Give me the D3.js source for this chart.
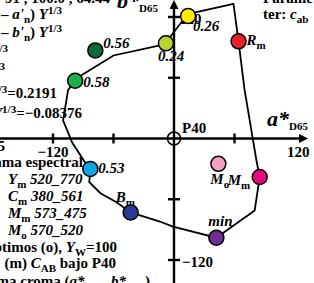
<!DOCTYPE html>
<html>
<meta charset="utf-8">
<head>
<title>Gama croma</title>
<style>
body { margin: 0; background: #fff; }
text { font-family: "Liberation Serif", "Times New Roman", serif; font-weight: bold; font-size: 15px; }
.curve { fill: none; stroke: #000; stroke-width: 1.8px; }
.axis { stroke: #000; stroke-width: 2.4px; }
</style>
</head>
<body>
<script src="https://d3js.org/d3.v7.min.js"></script>
<script>

// chroma loop (a*, b*) under P40
var curveA = [14, 19, 59, 64, 70, 82, 85, 80, 42, -1, -14, -43, -57, -73, -84, -83, -88, -101, -110, -105, -98, -91, -60, -14, -8, -4, 9];
var curveB = [121, 124, 133, 96, 48, -23, -38, -71, -98, -87, -82, -73, -63, -54, -43, -30, -24, -4, 18, 48, 57, 63, 82, 92, 94, 100, 117];

// marked colours
var ptNames = ["0.56", "0.58", "0.24", "0.26", "Rm", "0.53", "Mo", "Mm", "Bm", "min"];
var ptA = [-78, -98, -8, 14, 64, -83, 44, 85, -43, 42];
var ptB = [87, 57, 94, 121, 96, -30, -25, -38, -73, -98];
var ptColors = ["#0b6a3c", "#18b14b", "#b9d431", "#ffec00", "#e8212b", "#12a6e6", "#f1a0c4", "#e5097f", "#2b3896", "#702f8e"];

var xTicks = [-120, -60, 60];
var yTicks = [120, 60, -60, -120];

var width = 314, height = 283;

var x = d3.scaleLinear().domain([-120, 120]).range([53, 295]);
var y = d3.scaleLinear().domain([-120, 120]).range([260, 17]);

var svg = d3.select("body").append("svg")
  .attr("width", width)
  .attr("height", height);

// text with italic / sub / sup pieces
function rich(px, py, parts, anchor) {
  var t = svg.append("text").attr("x", px).attr("y", py).attr("text-anchor", anchor || "start");
  var shift = 0;
  parts.forEach(function(p) {
    var s = t.append("tspan").text(p.t);
    var want = p.sub ? 4 : (p.sup ? -5 : 0);
    s.attr("dy", want - shift);
    shift = want;
    if (p.sub || p.sup) s.style("font-size", (p.fs || 11) + "px");
    if (p.i) s.style("font-style", "italic");
    if (p.big) s.style("font-size", p.big + "px");
  });
  return t;
}

// axes
svg.append("line").attr("class", "axis")
  .attr("x1", 0).attr("x2", x(126)).attr("y1", y(0)).attr("y2", y(0));
svg.append("line").attr("class", "axis")
  .attr("x1", x(0)).attr("x2", x(0)).attr("y1", height).attr("y2", y(130));
svg.append("path")
  .attr("d", "M" + (x(126) + 7) + "," + y(0) + "l-9,-4.5v9z");
svg.append("path")
  .attr("d", "M" + x(0) + "," + (y(130) - 7) + "l-4.5,9h9z");

svg.selectAll(".xt").data(xTicks).enter().append("line").attr("class", "axis")
  .attr("x1", d => x(d)).attr("x2", d => x(d))
  .attr("y1", y(0) - 5).attr("y2", y(0) + 5);
svg.selectAll(".yt").data(yTicks).enter().append("line").attr("class", "axis")
  .attr("x1", x(0) - 6).attr("x2", x(0) + 6)
  .attr("y1", d => y(d)).attr("y2", d => y(d));

rich(x(-120), 157, [{t: "−120"}], "middle");
rich(x(0) + 8, y(-120) + 7, [{t: "−120"}]);
rich(x(0) + 5, y(120) + 7, [{t: "120"}]);
rich(287, 157, [{t: "120"}]);
rich(267, 126, [{t: "a*", i: 1, big: 22}, {t: "D65", sub: 1, fs: 11}]);
rich(117, 8, [{t: "b*", i: 1, big: 22}, {t: "D65", sub: 1, fs: 11}]);

// P40 marker
svg.append("circle").attr("cx", x(0)).attr("cy", y(0)).attr("r", 6.5)
  .attr("fill", "none").attr("stroke", "#000").attr("stroke-width", 1.6);
rich(x(0) + 8, y(0) - 6, [{t: "P40"}]);

// loop
var loop = d3.line()
  .x(function(d, i) { return x(d); })
  .y(function(d, i) { return y(curveB[i]); })
  .curve(d3.curveLinearClosed);
svg.append("path").attr("class", "curve").attr("d", loop(curveA));

svg.selectAll(".pt").data(ptNames).enter().append("circle")
  .attr("cx", (d, i) => x(ptA[i]))
  .attr("cy", (d, i) => y(ptB[i]))
  .attr("r", 7.5)
  .attr("fill", (d, i) => ptColors[i])
  .attr("stroke", "#000").attr("stroke-width", 1.5);

// point labels
function px(i) { return x(ptA[i]); }
function py(i) { return y(ptB[i]); }
rich(px(0) + 8, py(0) - 2, [{t: "0.56", i: 1}]);
rich(px(1) + 8, py(1) + 6, [{t: "0.58", i: 1}]);
rich(px(2) - 8, py(2) + 18, [{t: "0.24", i: 1}]);
rich(px(3) + 5, py(3) + 15, [{t: "0.26", i: 1}]);
rich(px(4) + 8, py(4) + 4, [{t: "R", i: 1}, {t: "m", sub: 1}]);
rich(px(5) + 8, py(5) + 4, [{t: "0.53", i: 1}]);
rich(px(6) - 8, py(6) + 20, [{t: "M", i: 1}, {t: "o", sub: 1}]);
rich(px(7) - 32, py(7) + 8, [{t: "M", i: 1}, {t: "m", sub: 1}]);
rich(px(8) - 15, py(8) - 10, [{t: "B", i: 1}, {t: "m", sub: 1}]);
rich(px(9) - 8, py(9) - 12, [{t: "min", i: 1}]);

// notes, left side
rich(110, 3, [{t: "91 , 100.0 , 64.44"}], "end");
rich(62, 19, [{t: "– "}, {t: "a'", i: 1}, {t: "n", sub: 1}, {t: ") "}, {t: "Y", i: 1}, {t: "1/3", sup: 1}], "end");
rich(62, 37, [{t: "– "}, {t: "b'", i: 1}, {t: "n", sub: 1}, {t: ") "}, {t: "Y", i: 1}, {t: "1/3", sup: 1}], "end");
rich(8, 57, [{t: "Y", i: 1}, {t: "1/3", sup: 1}], "end");
rich(5, 75, [{t: "Y", i: 1}, {t: "1/3", sup: 1}], "end");
rich(57, 98, [{t: "Y", i: 1}, {t: "1/3", sup: 1}, {t: "=0.2191"}], "end");
rich(82, 118, [{t: "Y", i: 1}, {t: "1/3", sup: 1}, {t: "=−0.08376"}], "end");
rich(5, 151, [{t: "5"}], "end");
rich(83, 167, [{t: "gama espectral"}], "end");
rich(8, 184, [{t: "Y", i: 1}, {t: "m", sub: 1}, {t: " 520_770", i: 1}]);
rich(8, 201, [{t: "C", i: 1}, {t: "m", sub: 1}, {t: " 380_561", i: 1}]);
rich(8, 218, [{t: "M", i: 1}, {t: "m", sub: 1}, {t: " 573_475", i: 1}]);
rich(8, 235, [{t: "M", i: 1}, {t: "o", sub: 1}, {t: " 570_520", i: 1}]);
rich(117, 252, [{t: "óptimos (o), "}, {t: "Y", i: 1}, {t: "W", sub: 1}, {t: "=100"}], "end");
rich(116, 268, [{t: "(m) "}, {t: "C", i: 1}, {t: "AB", sub: 1}, {t: " bajo P40"}], "end");
rich(150, 286, [{t: "gama croma ("}, {t: "a*", i: 1}, {t: "D65", sub: 1}, {t: ", "}, {t: "b*", i: 1}, {t: "D65", sub: 1}, {t: ")"}], "end");

// notes, right top
rich(263, 3, [{t: "Parame-"}]);
rich(263, 19, [{t: "ter: "}, {t: "c", i: 1}, {t: "ab", sub: 1}]);

</script>
</body>
</html>
